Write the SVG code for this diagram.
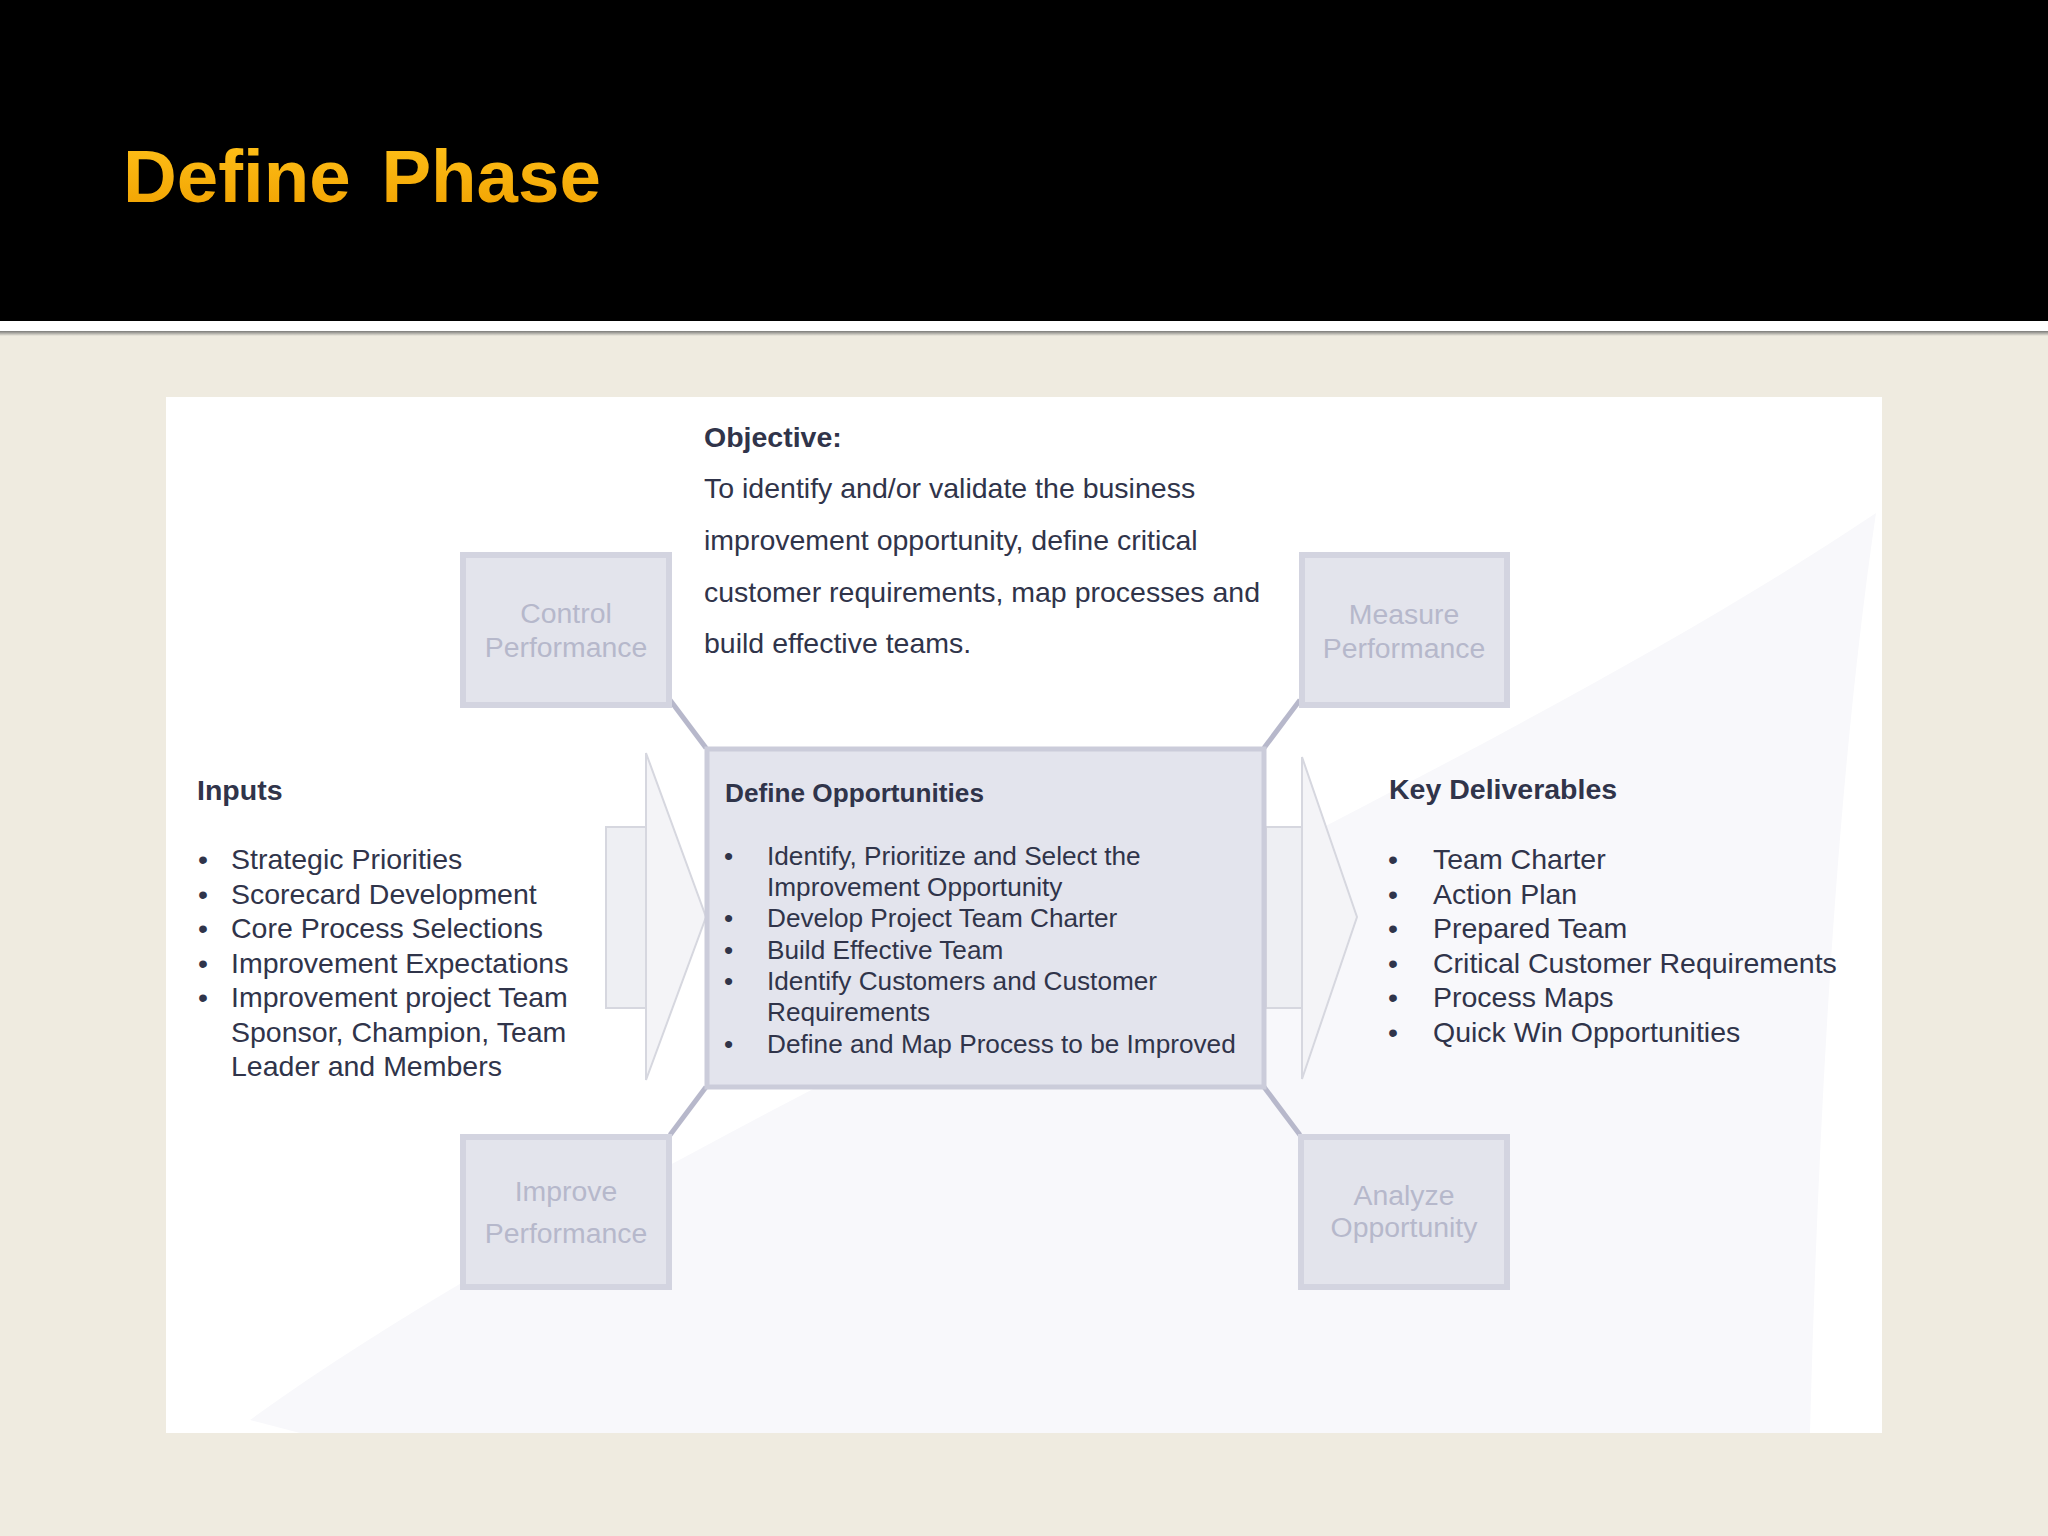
<svg xmlns="http://www.w3.org/2000/svg" width="2048" height="1536" viewBox="0 0 2048 1536">
<defs>
<linearGradient id="titleGrad" x1="0" y1="0" x2="0" y2="1">
<stop offset="0" stop-color="#FFC21A"/>
<stop offset="1" stop-color="#F0A000"/>
</linearGradient>
<linearGradient id="shadowGrad" x1="0" y1="0" x2="0" y2="1">
<stop offset="0" stop-color="#7A7A78"/>
<stop offset="1" stop-color="#EFEBE0"/>
</linearGradient>
<style>
.side{fill:#E3E4EC;stroke:#D3D4E0;stroke-width:6}
.sideText{font-family:"Liberation Sans",Arial,sans-serif;font-size:28.4px;fill:#B6B8CB;text-anchor:middle}
.main{fill:#E3E4ED;stroke:#CBCCDA;stroke-width:5}
.body{font-family:"Liberation Sans",Arial,sans-serif;fill:#30344A}
.b28{font-size:28.5px}
.b26{font-size:26.2px}
.hd{font-weight:bold}
.link{stroke:#B7B8CB;stroke-width:5;fill:none;stroke-linecap:butt}
.chevRect{fill:#EEEFF3;stroke:#D6D7DF;stroke-width:2}
.chevTri{fill:#F4F4F7;stroke:#D6D7DF;stroke-width:2}
</style>
</defs>

<!-- background -->
<rect x="0" y="0" width="2048" height="1536" fill="#EFEBE0"/>
<rect x="0" y="0" width="2048" height="321" fill="#000000"/>
<rect x="0" y="321" width="2048" height="10" fill="#FFFFFF"/>
<rect x="0" y="331" width="2048" height="5" fill="url(#shadowGrad)"/>
<text x="123" y="202" font-family="'Liberation Sans',Arial,sans-serif" font-weight="bold" font-size="74.5" word-spacing="10" fill="url(#titleGrad)">Define Phase</text>

<!-- content panel -->
<rect x="166" y="397" width="1716" height="1036" fill="#FFFFFF"/>
<path d="M250,1420 C650,1130 1450,800 1876,513 Q1825,860 1810,1433 L300,1433 Z" fill="#F8F8FB"/>

<!-- connectors -->
<g id="connectors">
<rect class="chevRect" x="606" y="827" width="40" height="181"/>
<polygon class="chevTri" points="646,753 706,917 646,1080"/>
<rect class="chevRect" x="1266" y="827" width="36" height="181"/>
<polygon class="chevTri" points="1302,757 1357,917 1302,1079"/>
<line class="link" x1="670" y1="700" x2="706" y2="748"/>
<line class="link" x1="1300" y1="700" x2="1264" y2="748"/>
<line class="link" x1="706" y1="1087" x2="670" y2="1135"/>
<line class="link" x1="1264" y1="1087" x2="1300" y2="1135"/>
</g>

<!-- objective -->
<g id="objective" class="body b28">
<text x="704" y="447" class="hd">Objective:</text>
<text x="704" y="498">To identify and/or validate the business</text>
<text x="704" y="550">improvement opportunity, define critical</text>
<text x="704" y="602">customer requirements, map processes and</text>
<text x="704" y="653">build effective teams.</text>
</g>

<!-- corner nodes -->
<g id="control-performance">
<rect class="side" x="463" y="555" width="206" height="150"/>
<text class="sideText" x="566" y="623">Control</text>
<text class="sideText" x="566" y="657">Performance</text>
</g>
<g id="measure-performance">
<rect class="side" x="1302" y="555" width="205" height="150"/>
<text class="sideText" x="1404" y="624">Measure</text>
<text class="sideText" x="1404" y="658">Performance</text>
</g>
<g id="improve-performance">
<rect class="side" x="463" y="1137" width="206" height="150"/>
<text class="sideText" x="566" y="1201">Improve</text>
<text class="sideText" x="566" y="1243">Performance</text>
</g>
<g id="analyze-opportunity">
<rect class="side" x="1301" y="1137" width="206" height="150"/>
<text class="sideText" x="1404" y="1205">Analyze</text>
<text class="sideText" x="1404" y="1237">Opportunity</text>
</g>

<!-- center node -->
<g id="define-opportunities">
<rect class="main" x="707" y="749" width="557" height="338"/>
<g class="body b26">
<text x="725" y="802" class="hd">Define Opportunities</text>
<text x="724" y="865">•</text><text x="767" y="865">Identify, Prioritize and Select the</text>
<text x="767" y="896">Improvement Opportunity</text>
<text x="724" y="927">•</text><text x="767" y="927">Develop Project Team Charter</text>
<text x="724" y="959">•</text><text x="767" y="959">Build Effective Team</text>
<text x="724" y="990">•</text><text x="767" y="990">Identify Customers and Customer</text>
<text x="767" y="1021">Requirements</text>
<text x="724" y="1053">•</text><text x="767" y="1053">Define and Map Process to be Improved</text>
</g>
</g>

<!-- inputs -->
<g id="inputs" class="body b28">
<text x="197" y="800" class="hd">Inputs</text>
<text x="198" y="869">•</text><text x="231" y="869">Strategic Priorities</text>
<text x="198" y="904">•</text><text x="231" y="904">Scorecard Development</text>
<text x="198" y="938">•</text><text x="231" y="938">Core Process Selections</text>
<text x="198" y="973">•</text><text x="231" y="973">Improvement Expectations</text>
<text x="198" y="1007">•</text><text x="231" y="1007">Improvement project Team</text>
<text x="231" y="1042">Sponsor, Champion, Team</text>
<text x="231" y="1076">Leader and Members</text>
</g>

<!-- key deliverables -->
<g id="key-deliverables" class="body b28">
<text x="1389" y="799" class="hd">Key Deliverables</text>
<text x="1388" y="869">•</text><text x="1433" y="869">Team Charter</text>
<text x="1388" y="904">•</text><text x="1433" y="904">Action Plan</text>
<text x="1388" y="938">•</text><text x="1433" y="938">Prepared Team</text>
<text x="1388" y="973">•</text><text x="1433" y="973">Critical Customer Requirements</text>
<text x="1388" y="1007">•</text><text x="1433" y="1007">Process Maps</text>
<text x="1388" y="1042">•</text><text x="1433" y="1042">Quick Win Opportunities</text>
</g>
</svg>
